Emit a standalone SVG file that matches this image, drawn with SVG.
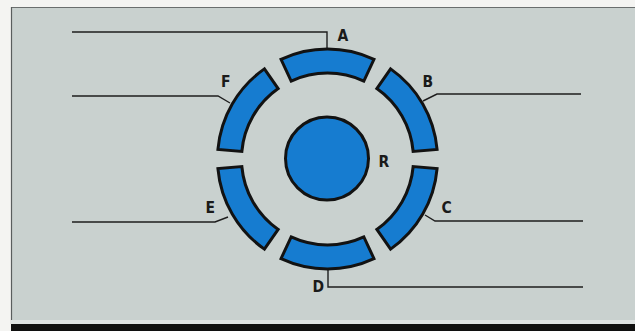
<svg xmlns="http://www.w3.org/2000/svg" width="635" height="331" viewBox="0 0 635 331">
<style>
.seg{fill:#167cd0;stroke:#121212;stroke-width:3;stroke-linejoin:miter}
.lead{fill:none;stroke:#1e1e1e;stroke-width:1.4}
.lbl{font-family:"DejaVu Sans Condensed","Liberation Sans",Arial,sans-serif;font-size:15.5px;font-weight:bold;fill:#1a1a1a}
</style>
<rect x="0" y="0" width="635" height="331" fill="#f4f4f2"/>
<rect x="11" y="7" width="624" height="316" fill="#c9d1cf"/>
<line x1="11" y1="7.5" x2="635" y2="7.5" stroke="#6a6e6e" stroke-width="1"/>
<line x1="11.5" y1="7" x2="11.5" y2="324" stroke="#5a5e5e" stroke-width="1.2"/>
<rect x="11" y="320" width="624" height="4" fill="#dfe3e2"/>
<rect x="11" y="324" width="624" height="7" fill="#101010"/>
<g id="connectors">
<polyline class="lead" points="72,32 327,32 327,48"/>
<polyline class="lead" points="72,96 218,96 230,103"/>
<polyline class="lead" points="581,94 437,94 423,101"/>
<polyline class="lead" points="583,221 435,221 425,215"/>
<polyline class="lead" points="72,222 215,222 228,217"/>
<polyline class="lead" points="328,270 328,287 583,287"/>
</g>
<g id="segA"><path class="seg" d="M281.01,59.31 A110,110 0 0 1 373.99,59.31 L363.84,81.06 A86,86 0 0 0 291.16,81.06 Z"/><text class="lbl" x="337.5" y="41">A</text></g>
<g id="segB"><path class="seg" d="M390.6,68.89 A110,110 0 0 1 437.08,149.41 L413.17,151.5 A86,86 0 0 0 376.83,88.55 Z"/><text class="lbl" x="422.5" y="87">B</text></g>
<g id="segC"><path class="seg" d="M437.08,168.59 A110,110 0 0 1 390.6,249.11 L376.83,229.45 A86,86 0 0 0 413.17,166.5 Z"/><text class="lbl" x="441.5" y="213">C</text></g>
<g id="segD"><path class="seg" d="M373.99,258.69 A110,110 0 0 1 281.01,258.69 L291.16,236.94 A86,86 0 0 0 363.84,236.94 Z"/><text class="lbl" x="312.5" y="292">D</text></g>
<g id="segE"><path class="seg" d="M264.4,249.11 A110,110 0 0 1 217.92,168.59 L241.83,166.5 A86,86 0 0 0 278.17,229.45 Z"/><text class="lbl" x="205.5" y="213">E</text></g>
<g id="segF"><path class="seg" d="M217.92,149.41 A110,110 0 0 1 264.4,68.89 L278.17,88.55 A86,86 0 0 0 241.83,151.5 Z"/><text class="lbl" x="221" y="87">F</text></g>
<g id="segR"><circle cx="327" cy="158.5" r="41.5" fill="#167cd0" stroke="#121212" stroke-width="3"/><text class="lbl" x="378.5" y="167">R</text></g>
</svg>
